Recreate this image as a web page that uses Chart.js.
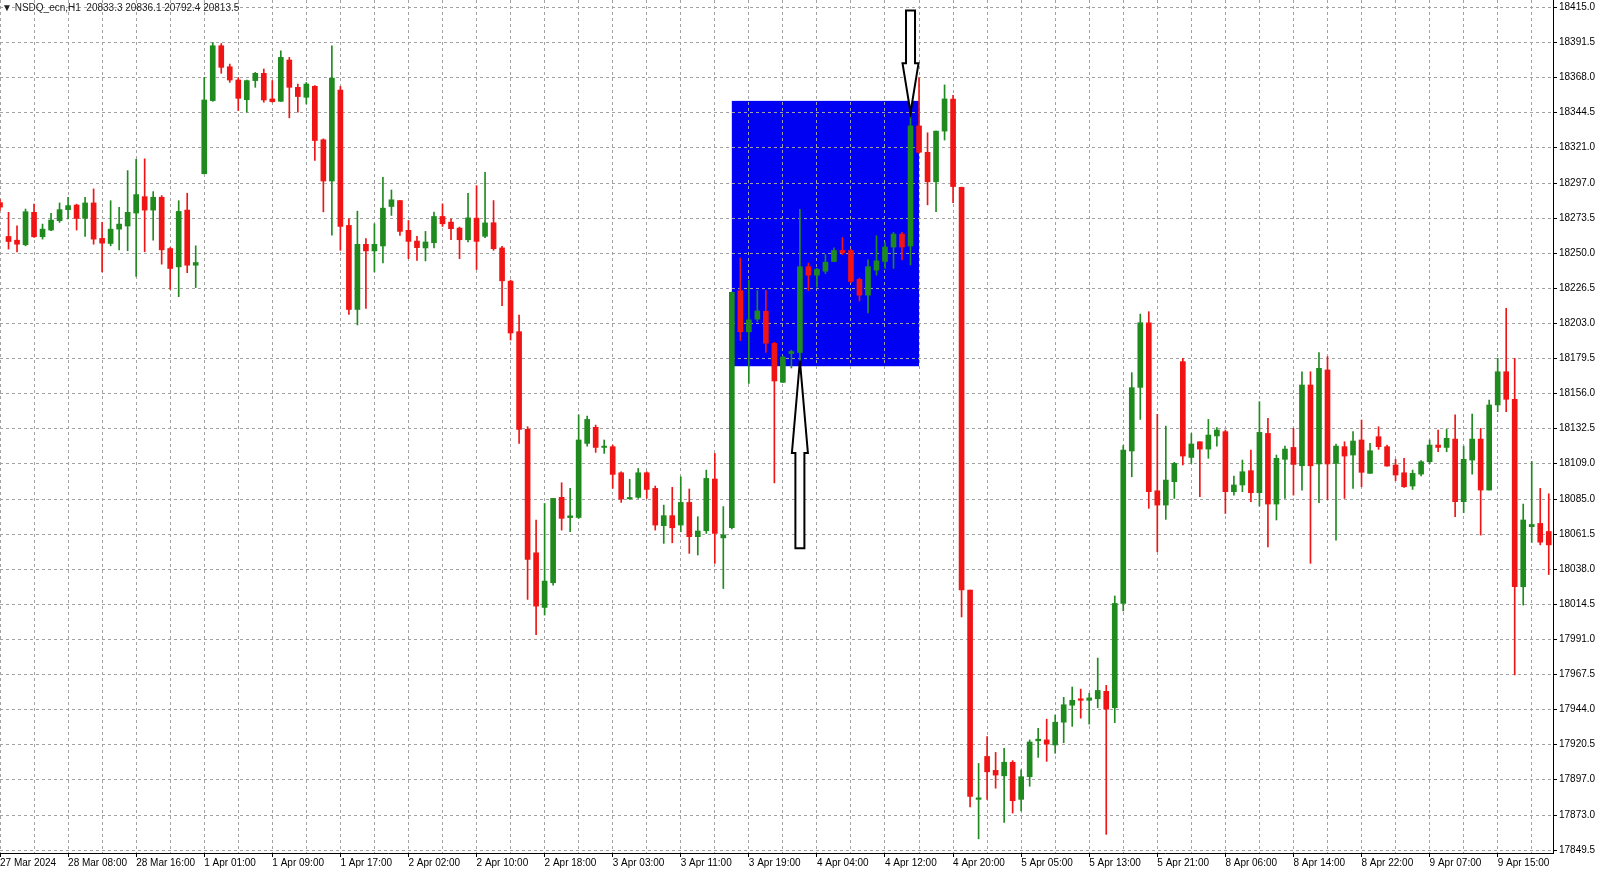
<!DOCTYPE html>
<html><head><meta charset="utf-8">
<script src="https://cdn.jsdelivr.net/npm/chart.js@4.4.1/dist/chart.umd.min.js"></script>
<style>
html,body{margin:0;padding:0;background:#fff;overflow:hidden}
#wrap{position:relative;width:1600px;height:875px}
#hdr{position:absolute;left:2px;top:2px;font:10px "Liberation Sans",Arial,sans-serif;color:#222;white-space:pre;background:transparent}
</style></head><body>
<div id="wrap"><canvas id="c" width="1600" height="875"></canvas><div id="hdr">▼ NSDQ_ecn,H1  20833.3 20836.1 20792.4 20813.5</div></div>
<script>
const timeLabels = ["27 Mar 2024","28 Mar 08:00","28 Mar 16:00","1 Apr 01:00","1 Apr 09:00","1 Apr 17:00","2 Apr 02:00","2 Apr 10:00","2 Apr 18:00","3 Apr 03:00","3 Apr 11:00","3 Apr 19:00","4 Apr 04:00","4 Apr 12:00","4 Apr 20:00","5 Apr 05:00","5 Apr 13:00","5 Apr 21:00","8 Apr 06:00","8 Apr 14:00","8 Apr 22:00","9 Apr 07:00","9 Apr 15:00"];
const priceTicks = [18415.0,18391.5,18368.0,18344.5,18321.0,18297.0,18273.5,18250.0,18226.5,18203.0,18179.5,18156.0,18132.5,18109.0,18085.0,18061.5,18038.0,18014.5,17991.0,17967.5,17944.0,17920.5,17897.0,17873.0,17849.5];

const openValues = [18284,18261.3,18258.8,18255.7,18277.5,18261.1,18265.6,18271.9,18279.3,18282.4,
18273.4,18283.8,18260.0,18256.6,18266.2,18268.3,18277.0,18288.0,18279.0,18287.6,
18253.2,18240.9,18279.0,18242.0,18303.4,18352.5,18389.3,18375.2,18366.3,18353.1,
18365.9,18370.8,18353.6,18352.0,18379.7,18361.4,18354.7,18362.1,18326.2,18298.5,
18359.6,18268.7,18212.3,18256.0,18251.6,18254.9,18281.4,18285.4,18265.4,18258.2,
18253.6,18257.1,18274.7,18270.9,18266.9,18259.1,18273.6,18261.4,18270.5,18253.6,
18231.3,18197.4,18131.8,18049.0,18012.3,18028.9,18086.2,18072.6,18072.7,18122.4,
18133.2,18119.7,18120.2,18102.7,18085.2,18086.2,18102.7,18092.2,18067.2,18073.9,
18067.6,18082.8,18059.8,18063.8,18098.5,18059.0,18065.9,18224.9,18197.3,18205.8,
18211.1,18189.6,18163.4,18182.7,18183.4,18241.0,18235.3,18238.0,18244.5,18251.9,
18251.9,18232.5,18221.9,18238.7,18244.5,18254.2,18262.9,18254.9,18335.5,18317.8,
18298.0,18332.0,18353.5,18294.2,18024.0,17883.5,17912.3,17903.0,17899.3,17908.4,
17883.5,17898.7,17922.8,17923.4,17920.0,17935.3,17946.7,17951.0,17950.0,17951.0,
17956.0,17945.0,18015.0,18117.3,18160.0,18203.4,18090.6,18081.0,18096.7,18177.3,
18113.0,18123.5,18118.6,18127.4,18130.3,18090.0,18094.5,18104.1,18089.3,18129.1,
18081.7,18111.7,18119.7,18107.4,18161.6,18108.6,18171.7,18109.0,18120.2,18114.6,
18124.7,18102.3,18126.9,18120.2,18107.9,18102.7,18093.8,18101.8,18110.1,18121.3,
18119.7,18125.3,18083.3,18111.2,18125.3,18091.1,18148.2,18170.5,18152.0,18026.2,
18066.5,18068.7,18063.3];

const highValues = [18286,18277.5,18268.5,18279.7,18283.0,18269.6,18276.8,18283.8,18287.6,18283.0,
18287.6,18293.2,18270.7,18285.3,18280.8,18305.5,18313.0,18313.4,18291.4,18288.7,
18253.9,18285.3,18290.3,18255.0,18368.1,18391.5,18390.8,18377.0,18368.0,18366.3,
18371.4,18373.7,18365.9,18385.9,18381.5,18363.6,18364.7,18362.5,18326.8,18389.3,
18362.0,18273.2,18278.3,18259.8,18269.8,18301.0,18292.5,18285.4,18272.0,18261.4,
18264.7,18277.6,18283.2,18273.2,18267.6,18290.3,18295.4,18304.4,18285.4,18254.7,
18232.0,18208.6,18133.6,18071.0,18082.1,18085.5,18096.0,18092.2,18141.5,18140.8,
18134.7,18124.7,18121.3,18103.4,18098.3,18105.6,18103.4,18093.8,18081.0,18092.9,
18100.0,18091.8,18073.2,18104.5,18115.7,18080.0,18224.0,18246.8,18231.8,18225.0,
18224.9,18190.3,18181.1,18185.0,18279.5,18243.3,18239.9,18249.1,18253.7,18260.6,
18252.6,18233.4,18245.6,18261.8,18257.2,18264.1,18264.1,18341.3,18367.8,18330.9,
18332.1,18363.0,18356.0,18294.5,18024.0,17907.6,17925.6,17915.0,17917.8,17909.5,
17903.4,17923.4,17931.1,17937.3,17940.0,17952.0,17958.9,17957.5,17954.7,17978.3,
17960.0,18020.0,18121.0,18169.9,18209.2,18210.8,18141.9,18134.0,18109.7,18179.5,
18129.1,18123.5,18138.5,18133.0,18131.4,18100.5,18111.2,18118.0,18150.4,18139.2,
18114.6,18120.6,18132.5,18170.5,18170.5,18183.3,18180.6,18122.0,18123.5,18130.3,
18138.1,18122.4,18133.6,18121.3,18111.7,18112.4,18104.5,18110.8,18124.7,18131.4,
18131.8,18141.5,18120.6,18142.1,18132.5,18151.5,18179.5,18213.1,18179.5,18081.7,
18110.3,18092.2,18088.6];

const lowValues = [18279,18252.8,18251.0,18255.0,18260.6,18259.5,18265.1,18270.7,18273.0,18265.6,
18261.3,18256.1,18237.5,18255.0,18252.3,18251.7,18234.4,18251.0,18258.8,18242.7,
18225.8,18220.9,18237.0,18227.0,18303.4,18352.0,18370.8,18364.7,18345.8,18344.7,
18361.4,18351.4,18351.4,18352.0,18340.9,18344.7,18350.2,18312.3,18277.8,18262.2,
18252.0,18209.0,18201.9,18213.0,18237.5,18243.5,18275.4,18262.0,18246.4,18245.3,
18244.9,18253.6,18268.0,18259.1,18246.4,18257.6,18239.1,18260.5,18252.0,18214.8,
18191.8,18122.4,18017.7,17994.0,18007.2,18027.3,18064.2,18063.1,18072.0,18120.6,
18116.4,18115.7,18092.2,18082.8,18084.8,18085.5,18085.5,18064.2,18055.3,18055.7,
18063.1,18048.6,18047.5,18062.0,18041.9,18025.0,18065.0,18191.5,18162.7,18204.2,
18183.4,18095.9,18163.4,18173.0,18177.7,18225.0,18227.2,18236.4,18244.5,18249.1,
18230.2,18218.0,18209.9,18235.3,18239.9,18239.9,18245.6,18242.2,18317.0,18282.5,
18277.9,18326.0,18284.0,18006.0,17878.5,17857.0,17883.5,17891.0,17868.0,17874.3,
17875.7,17892.3,17911.7,17909.0,17914.5,17921.5,17932.5,17938.0,17934.0,17945.0,
17860.0,17935.0,18010.0,18100.0,18138.5,18078.8,18049.7,18071.4,18085.5,18107.9,
18109.0,18086.6,18112.4,18120.6,18075.4,18087.7,18090.0,18083.3,18080.4,18053.0,
18071.0,18085.5,18087.7,18091.1,18041.9,18082.6,18084.8,18057.5,18085.5,18092.2,
18093.3,18102.3,18118.4,18107.2,18097.4,18092.9,18091.5,18100.5,18109.0,18116.8,
18116.8,18073.2,18075.9,18101.8,18060.9,18091.1,18143.7,18143.7,17967.0,18013.9,
18056.0,18054.3,18034.4];

const closeValues = [18281,18257.9,18256.1,18277.9,18261.1,18266.2,18272.3,18279.3,18282.0,18273.4,
18283.8,18259.5,18256.8,18266.2,18269.6,18277.5,18289.4,18279.0,18287.6,18252.3,
18239.8,18278.1,18242.0,18243.8,18352.9,18389.3,18374.8,18366.3,18354.0,18365.9,
18370.8,18352.9,18351.8,18381.5,18361.4,18355.2,18363.6,18325.7,18298.5,18367.6,
18268.0,18212.3,18256.0,18251.6,18256.0,18280.3,18285.9,18264.7,18258.0,18253.8,
18257.6,18274.7,18269.8,18266.5,18259.1,18273.8,18258.0,18270.4,18253.1,18231.5,
18196.5,18131.8,18044.5,18013.2,18030.0,18085.5,18072.1,18073.8,18124.7,18138.5,
18119.7,18120.6,18101.6,18085.0,18086.1,18102.7,18091.5,18067.6,18073.9,18065.8,
18082.8,18059.8,18063.6,18098.9,18062.0,18061.0,18223.8,18197.3,18205.3,18211.3,
18189.6,18164.3,18180.4,18184.1,18241.0,18235.3,18239.2,18244.0,18251.9,18250.3,
18231.1,18221.9,18241.0,18244.9,18254.2,18262.9,18254.2,18335.5,18317.8,18298.0,
18332.0,18353.6,18294.8,18024.0,17885.4,17884.5,17902.0,17899.8,17908.4,17882.6,
17898.7,17922.0,17923.9,17920.6,17935.3,17947.0,17950.0,17950.0,17951.6,17956.6,
17944.0,18015.0,18118.0,18159.8,18203.4,18090.0,18081.0,18097.8,18109.0,18113.9,
18122.0,18118.6,18128.0,18131.4,18090.0,18094.5,18103.4,18089.3,18129.8,18081.7,
18112.4,18118.6,18108.3,18161.6,18107.4,18172.8,18108.6,18120.6,18113.9,18124.0,
18103.0,18117.5,18120.2,18107.2,18101.2,18093.3,18102.3,18110.1,18121.3,18119.7,
18125.8,18083.3,18111.7,18125.3,18091.1,18148.2,18170.5,18152.0,18026.2,18071.0,
18068.0,18056.1,18054.3];

// annotation anchors (candle index, price)
const boxStart = 86, boxEnd = 108, boxTop = 18352.3, boxBottom = 18174.2;
const upArrow = {index: 94, tip: 18178.0, base: 18116.0, tail: 18052.0};
const downArrow = {index: 107, tip: 18344.5, base: 18377.5, tail: 18413.0};

const labelStep = 8;
const gridStep = 4;

const UP = '#1f8b1f', DOWN = '#f01414';
const FONT = '"Liberation Sans", Arial, sans-serif';
const colors = openValues.map((o, i) => closeValues[i] >= o ? UP : DOWN);
const bodies = openValues.map((o, i) => ({x: i, y: [o, closeValues[i]]}));
const wicks = highValues.map((h, i) => ({x: i, y: [lowValues[i], h]}));
const gridIdx = [];
for (let v = 0; v < openValues.length; v += gridStep) gridIdx.push(v);

function drawArrow(ctx, x, tip, base, tail, hw, sw) {
  ctx.save();
  ctx.beginPath();
  ctx.moveTo(x, tip);
  ctx.lineTo(x + hw, base);
  ctx.lineTo(x + sw, base);
  ctx.lineTo(x + sw, tail);
  ctx.lineTo(x - sw, tail);
  ctx.lineTo(x - sw, base);
  ctx.lineTo(x - hw, base);
  ctx.closePath();
  ctx.fillStyle = '#ffffff';
  ctx.fill();
  ctx.lineWidth = 2;
  ctx.lineJoin = 'miter';
  ctx.strokeStyle = '#000000';
  ctx.stroke();
  ctx.restore();
}

const overlay = {
  id: 'overlay',
  beforeDraw(chart) {
    const {ctx, scales: {x, y}} = chart;
    const x1 = x.getPixelForValue(boxStart), x2 = x.getPixelForValue(boxEnd);
    const y1 = y.getPixelForValue(boxTop), y2 = y.getPixelForValue(boxBottom);
    ctx.save();
    ctx.fillStyle = '#0000f2';
    ctx.fillRect(x1, y1, x2 - x1, y2 - y1);
    ctx.restore();
  },
  afterDatasetsDraw(chart) {
    const {ctx, scales: {x, y}} = chart;
    [upArrow, downArrow].forEach(a => {
      drawArrow(ctx, x.getPixelForValue(a.index), y.getPixelForValue(a.tip),
        y.getPixelForValue(a.base), y.getPixelForValue(a.tail), 8, 4.5);
    });
  }
};

new Chart(document.getElementById('c'), {
  type: 'bar',
  data: {
    datasets: [
      {label: 'wick', data: wicks, backgroundColor: colors, barThickness: 1, grouped: false, order: 2, borderWidth: 0},
      {label: 'body', data: bodies, backgroundColor: colors, barThickness: 5, grouped: false, order: 1, borderWidth: 0, minBarLength: 1}
    ]
  },
  options: {
    responsive: false,
    animation: false,
    devicePixelRatio: 1,
    layout: {padding: 0},
    plugins: {legend: {display: false}, tooltip: {enabled: false}, title: {display: false}},
    scales: {
      x: {
        type: 'linear', position: 'bottom', min: 0, max: 182.5, offset: false,
        grid: {offset: false, color: '#a2a2a2', lineWidth: 1, drawTicks: true, tickLength: 4,
          tickColor: c => (c.tick && c.tick.value % labelStep === 0) ? '#000' : 'rgba(0,0,0,0)'},
        border: {display: true, color: '#000', width: 1, dash: [3, 3]},
        ticks: {autoSkip: false, maxRotation: 0, minRotation: 0, align: 'start', padding: 0, color: '#000',
          font: {family: FONT, size: 10},
          callback: v => (v % labelStep === 0) ? (timeLabels[v / labelStep] || '') : ''},
        afterBuildTicks: s => { s.ticks = gridIdx.map(v => ({value: v})); },
        afterFit: s => { s.height = 22; s.paddingLeft = 0; s.paddingRight = 0; }
      },
      y: {
        type: 'linear', position: 'right', min: 17847.5, max: 18420.0,
        grid: {color: '#a2a2a2', lineWidth: 1, drawTicks: true, tickLength: 4, tickColor: '#000'},
        border: {display: true, color: '#000', width: 1, dash: [3, 3]},
        ticks: {padding: 2, color: '#000', font: {family: FONT, size: 10}, callback: v => Number(v).toFixed(1)},
        afterBuildTicks: s => { s.ticks = priceTicks.map(v => ({value: v})); },
        afterFit: s => { s.width = 47; s.paddingTop = 0; s.paddingBottom = 0; }
      }
    }
  },
  plugins: [overlay]
});
</script>
</body></html>
